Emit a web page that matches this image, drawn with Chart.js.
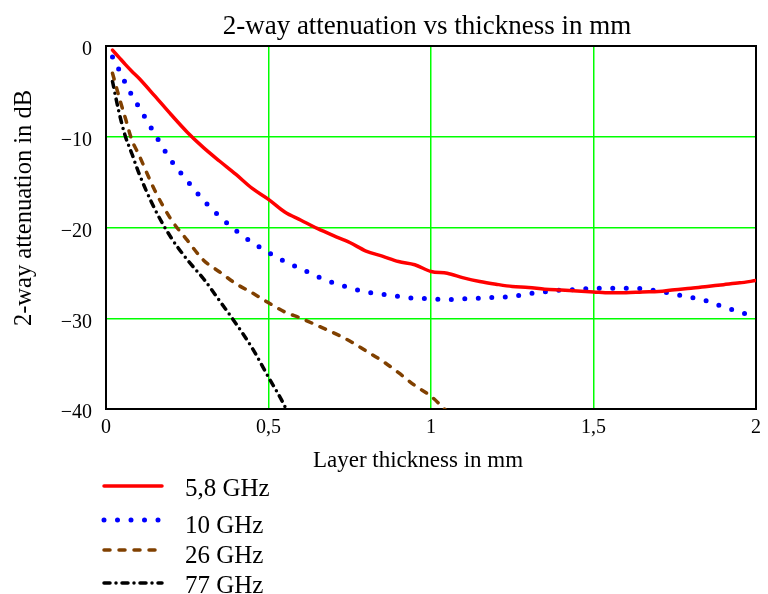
<!DOCTYPE html>
<html>
<head>
<meta charset="utf-8">
<script src="https://cdn.jsdelivr.net/npm/chart.js@4"></script>
<style>
  body { margin: 0; background: #fff; }
  #wrap { width: 768px; height: 594px; position: relative; }
</style>
</head>
<body>
<div id="wrap"><canvas id="attChart"></canvas></div>
<script>
/* 2-way attenuation vs layer thickness */
const thickness = [0.02, 0.04, 0.06, 0.08, 0.1, 0.15, 0.2, 0.25, 0.3, 0.35, 0.4, 0.45, 0.5, 0.55, 0.6,
  0.65, 0.7, 0.75, 0.8, 0.85, 0.9, 0.95, 1.0, 1.05, 1.1, 1.15, 1.2, 1.25, 1.3, 1.35, 1.4, 1.45, 1.5,
  1.55, 1.6, 1.65, 1.7, 1.75, 1.8, 1.85, 1.9, 1.95, 2.0];

const att58 = [-0.45, -1.25, -2.05, -2.8, -3.5, -5.5, -7.55, -9.5, -11.2, -12.7, -14.15, -15.7, -16.9, -18.3, -19.2,
  -20.1, -20.9, -21.65, -22.6, -23.15, -23.75, -24.1, -24.85, -25.05, -25.55, -25.95, -26.25, -26.5, -26.6, -26.8, -26.9, -27.0, -27.1,
  -27.2, -27.2, -27.1, -27.05, -26.85, -26.7, -26.5, -26.3, -26.1, -25.85];

const att10 = [-1.2, -2.6, -4.1, -5.45, -6.65, -9.7, -12.6, -14.85, -17.0, -18.8, -20.35, -21.65, -22.75, -23.75, -24.55,
  -25.4, -26.1, -26.65, -27.1, -27.35, -27.6, -27.8, -27.85, -27.95, -27.85, -27.8, -27.7, -27.6, -27.3, -27.1, -26.9, -26.85, -26.7,
  -26.7, -26.7, -26.75, -27.0, -27.35, -27.7, -28.1, -28.75, -29.3, -29.9];

const att26 = [-3.0, -5.6, -8.0, -10.4, -11.9, -15.9, -19.1, -21.4, -23.6, -24.9, -26.2, -27.2, -28.3, -29.3, -30.0,
  -30.8, -31.6, -32.5, -33.6, -34.7, -36.0, -37.4, -38.6, -40.3];

const att77 = [-3.9, -7.3, -10.0, -11.9, -13.9, -17.95, -21.1, -23.55, -25.65, -28.1, -30.6, -33.3, -36.5, -39.7, -44.0];

const seriesLabels = ['5,8 GHz', '10 GHz', '26 GHz', '77 GHz'];
const xTicks = [0, 0.5, 1, 1.5, 2];
const yTicks = [-40, -30, -20, -10, 0];

const FONT = "'Liberation Serif', 'Times New Roman', serif";

function pts(values) {
  return values.map((v, i) => ({ x: thickness[i], y: v }));
}

// titles, frame and legend drawn around the plot area
const decor = {
  id: 'decor',
  beforeDatasetsDraw(chart) {
    const { ctx, chartArea: a } = chart;
    ctx.save();
    ctx.strokeStyle = '#000';
    ctx.lineWidth = 2;
    ctx.strokeRect(a.left, a.top, a.right - a.left, a.bottom - a.top);
    ctx.restore();
  },
  afterDraw(chart) {
    const { ctx } = chart;
    ctx.save();
    ctx.fillStyle = '#000';
    ctx.textBaseline = 'alphabetic';

    ctx.font = '27px ' + FONT;
    ctx.textAlign = 'center';
    ctx.fillText('2-way attenuation vs thickness in mm', 427, 34);

    ctx.font = '23px ' + FONT;
    ctx.fillText('Layer thickness in mm', 418, 467);

    ctx.save();
    ctx.font = '24.5px ' + FONT;
    ctx.translate(31, 208);
    ctx.rotate(-Math.PI / 2);
    ctx.fillText('2-way attenuation in dB', 0, 0);
    ctx.restore();

    // legend
    const lineY = [486, 520, 550, 583];
    const textY = [496, 533, 563, 593];
    ctx.font = '25px ' + FONT;
    ctx.textAlign = 'left';
    chart.data.datasets.forEach((ds, i) => {
      ctx.save();
      ctx.strokeStyle = ds.borderColor;
      ctx.lineWidth = ds.borderWidth;
      ctx.lineCap = ds.borderCapStyle || 'butt';
      ctx.setLineDash(ds.borderDash || []);
      ctx.beginPath();
      ctx.moveTo(104, lineY[i]);
      ctx.lineTo(162, lineY[i]);
      ctx.stroke();
      ctx.restore();
      ctx.fillText(ds.label, 185, textY[i]);
    });
    ctx.restore();
  }
};

const chart = new Chart(document.getElementById('attChart'), {
  type: 'line',
  data: {
    datasets: [
      { label: seriesLabels[0], data: pts(att58), borderColor: '#ff0000', borderWidth: 3.5, borderCapStyle: 'round' },
      { label: seriesLabels[1], data: pts(att10), borderColor: '#0000ff', borderWidth: 5, borderCapStyle: 'round', borderDash: [0, 13.5] },
      { label: seriesLabels[2], data: pts(att26), borderColor: '#804000', borderWidth: 3.5, borderCapStyle: 'round', borderDash: [6, 9] },
      { label: seriesLabels[3], data: pts(att77), borderColor: '#000000', borderWidth: 3.5, borderCapStyle: 'round', borderDash: [6, 6, 0, 6] }
    ]
  },
  options: {
    responsive: true,
    maintainAspectRatio: false,
    animation: false,
    layout: { padding: { top: 46, right: 9, left: 0, bottom: 0 } },
    elements: { point: { radius: 0 }, line: { cubicInterpolationMode: 'monotone', fill: false } },
    plugins: { legend: { display: false }, title: { display: false }, tooltip: { enabled: false } },
    scales: {
      x: {
        type: 'linear', min: 0, max: 2,
        afterFit: s => { s.height = 185; },
        afterBuildTicks: s => { s.ticks = xTicks.map(v => ({ value: v })); },
        border: { display: false },
        grid: { color: '#00ff00', lineWidth: 1.5, drawTicks: false },
        ticks: { padding: 7, color: '#000', font: { family: FONT, size: 20 }, maxRotation: 0,
          callback: v => String(v).replace('.', ',') }
      },
      y: {
        type: 'linear', min: -40, max: 0,
        afterFit: s => { s.width = 106; },
        afterBuildTicks: s => { s.ticks = yTicks.map(v => ({ value: v })); },
        border: { display: false },
        grid: { color: '#00ff00', lineWidth: 1.5, drawTicks: false },
        ticks: { padding: 14, labelOffset: 4, color: '#000', font: { family: FONT, size: 20 },
          callback: v => v < 0 ? '\u2212' + Math.abs(v) : String(v) }
      }
    }
  },
  plugins: [decor]
});
</script>
</body>
</html>
